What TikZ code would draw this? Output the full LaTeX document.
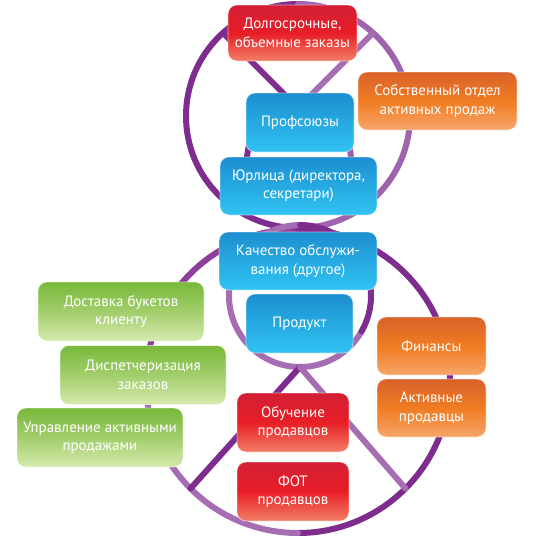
\documentclass[tikz,border=0pt]{standalone}
\usepackage{fontspec}
\setmainfont{PT Sans}
\definecolor{pdark}{HTML}{7E2C8E}
\definecolor{pmid}{HTML}{8E3F9C}
\definecolor{plight}{HTML}{A66DB3}
\definecolor{rtop}{HTML}{D21F35}
\definecolor{rmid}{HTML}{E81E26}
\definecolor{rbot}{HTML}{F27E67}
\definecolor{otop}{HTML}{D9612A}
\definecolor{omid}{HTML}{F07C22}
\definecolor{obot}{HTML}{F7A56A}
\definecolor{btop}{HTML}{1D8ECF}
\definecolor{bmid}{HTML}{26A9E1}
\definecolor{bbot}{HTML}{30C3F2}
\definecolor{gtop}{HTML}{78B83A}
\definecolor{gmid}{HTML}{A2CE6C}
\definecolor{gbot}{HTML}{D6EAAE}
\tikzset{
  ring/.style={line width=6pt, line cap=round},
  box/.style={rectangle, rounded corners=9pt, draw=white, draw opacity=0.55,
    line width=0.8pt, text=white, align=center, inner sep=0pt,
    font=\fontsize{15}{18.5}\selectfont},
  redbox/.style={box, top color=rtop, bottom color=rbot, middle color=rmid},
  orangebox/.style={box, top color=otop, bottom color=obot, middle color=omid},
  bluebox/.style={box, top color=btop, bottom color=bbot, middle color=bmid},
  greenbox/.style={box, top color=gtop, bottom color=gbot, middle color=gmid},
}
\begin{document}
\begin{tikzpicture}[x=1pt, y=-1pt]
\useasboundingbox (0,0) rectangle (536,536);
% top big circle
\coordinate (c1) at (298,116);
\draw[ring, pdark] (c1) ++(90:112) arc[start angle=90, end angle=270, radius=112];
\draw[ring, plight!85!pdark] (c1) ++(270:112) arc[start angle=270, end angle=450, radius=112];
% top V lines
\coordinate (vl) at (223,33);
\coordinate (vr) at (373,33);
\coordinate (vm) at (298,108);
\draw[ring, pdark] (vl) -- (vm);
\draw[ring, plight] (vr) -- (vm);
% top inner circle
\coordinate (c2) at (299,160);
\draw[ring, pdark] (c2) ++(90:52) arc[start angle=90, end angle=270, radius=52];
\draw[ring, plight!80!pdark] (c2) ++(270:52) arc[start angle=270, end angle=450, radius=52];
% bottom big circle
\coordinate (c3) at (298,381);
\draw[ring, pmid] (c3) ++(180:152) arc[start angle=180, end angle=270, radius=152];
\draw[ring, pdark] (c3) ++(270:152) arc[start angle=270, end angle=450, radius=152];
\draw[ring, plight] (c3) ++(90:152) arc[start angle=90, end angle=180, radius=152];
% bottom inner circle
\coordinate (c4) at (300,296);
\draw[ring, plight] (c4) ++(30:71) arc[start angle=30, end angle=270, radius=71];
\draw[ring, pdark] (c4) ++(270:71) arc[start angle=270, end angle=390, radius=71];
% bottom lambda lines
\coordinate (lm) at (300,367);
\coordinate (ll) at (190.5,488.5);
\coordinate (lr) at (405.5,488.5);
\draw[ring, pdark] (lm) -- (ll);
\draw[ring, plight] (lm) -- (lr);
% boxes
\node[redbox, minimum width=129pt, minimum height=56pt] (dolg) at (292.5,33) {Долгосрочные,\\объемные заказы};
\node[orangebox, minimum width=159pt, minimum height=58pt] (sobst) at (437.5,101) {Собственный отдел\\активных продаж};
\node[bluebox, minimum width=108pt, minimum height=59pt] (prof) at (300,122.5) {Профсоюзы};
\node[bluebox, minimum width=157pt, minimum height=58pt] (yur) at (298.5,186) {Юрлица (директора,\\секретари)};
\node[bluebox, minimum width=158pt, minimum height=58pt] (kach) at (298,261) {Качество обслужи-\\вания (другое)};
\node[bluebox, minimum width=107pt, minimum height=59pt] (prod) at (299.5,323.5) {Продукт};
\node[redbox, minimum width=112pt, minimum height=59pt] (obuch) at (293,422.5) {Обучение\\продавцов};
\node[redbox, minimum width=112pt, minimum height=59pt] (fot) at (293,491.5) {ФОТ\\продавцов};
\node[orangebox, minimum width=109pt, minimum height=58pt] (fin) at (431.5,346) {Финансы};
\node[orangebox, minimum width=109pt, minimum height=58pt] (akt) at (431.5,408) {Активные\\продавцы};
\node[greenbox, minimum width=166pt, minimum height=59pt] (dost) at (121,311.5) {Доставка букетов\\клиенту};
\node[greenbox, minimum width=166pt, minimum height=59pt] (disp) at (143,375) {Диспетчеризация\\заказов};
\node[greenbox, minimum width=166pt, minimum height=59pt] (upr) at (100,437.5) {Управление активными\\продажами};
\end{tikzpicture}
\end{document}
